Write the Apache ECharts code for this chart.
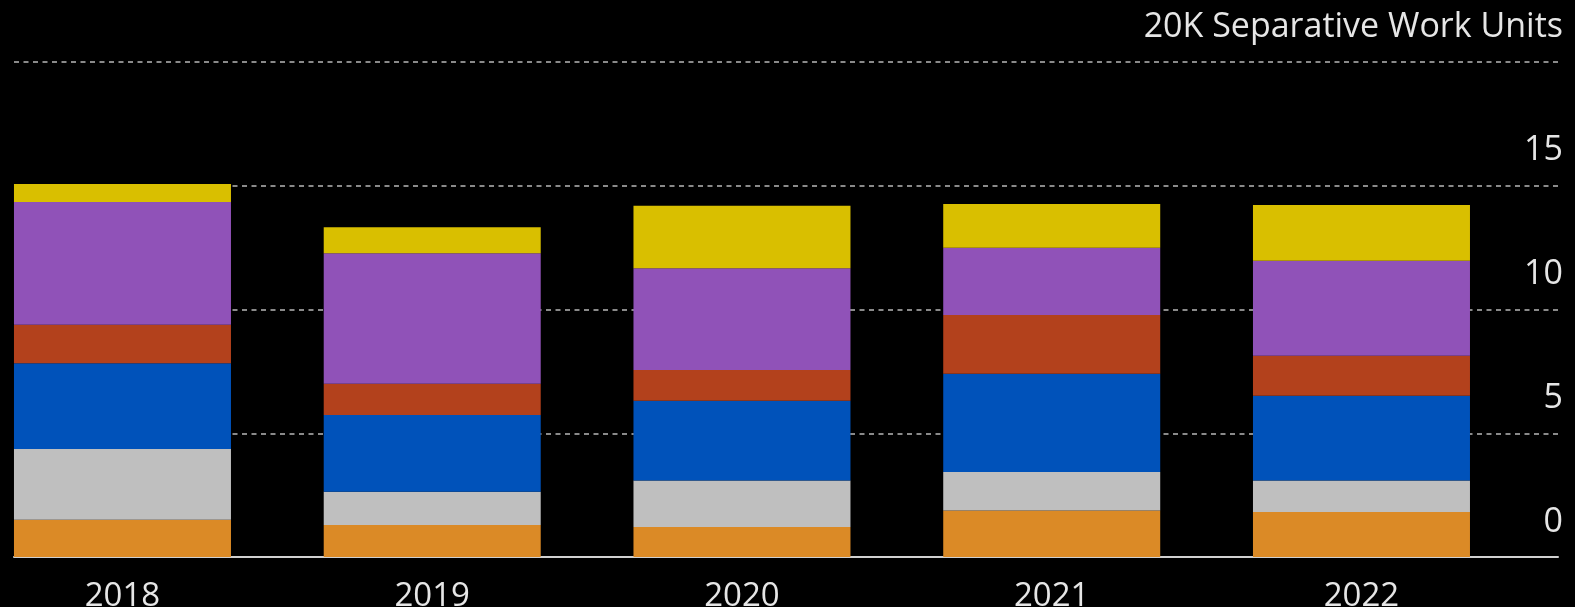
<!DOCTYPE html>
<html>
<head>
<meta charset="utf-8">
<script src="https://cdn.jsdelivr.net/npm/echarts@6/dist/echarts.min.js"></script>
<style>
html,body{margin:0;padding:0;background:#000;}
#c{width:1575px;height:607px;}
</style>
</head>
<body>
<div id="c"></div>
<script>
const categories = ['2018', '2019', '2020', '2021', '2022'];
const seriesOrange = [1.51, 1.29, 1.21, 1.88, 1.82];
const seriesGray   = [2.85, 1.35, 1.88, 1.55, 1.27];
const seriesBlue   = [3.47, 3.10, 3.22, 3.97, 3.43];
const seriesRed    = [1.55, 1.26, 1.25, 2.38, 1.61];
const seriesPurple = [4.96, 5.27, 4.11, 2.72, 3.84];
const seriesYellow = [0.73, 1.05, 2.52, 1.76, 2.25];
const yTickValues = [0, 5, 10, 15, 20];
const yTickLabels = ['0', '5', '10', '15', '20K Separative Work Units'];

const FONT = '"Open Sans", "Noto Sans", sans-serif';
const colors = {
  orange: '#db8a26', gray: '#bfbfbf', blue: '#0052ba',
  red: '#b3411c', purple: '#9052b8', yellow: '#d9bf00'
};

function bar(name, data, color) {
  return {
    name: name, type: 'bar', stack: 'total', data: data,
    xAxisIndex: 0, yAxisIndex: 0,
    barWidth: 217,
    itemStyle: { color: color },
    emphasis: { disabled: true }
  };
}

const chart = echarts.init(document.getElementById('c'), null, { renderer: 'canvas' });
chart.setOption({
  backgroundColor: '#000000',
  animation: false,
  grid: [
    { left: -32.4, right: 58.65, top: 62, bottom: 50, containLabel: false, outerBoundsMode: 'none' },
    { left: 14, right: 17, top: 62, bottom: 50, containLabel: false, outerBoundsMode: 'none' }
  ],
  xAxis: [
    {
      type: 'category', gridIndex: 0, data: categories,
      axisLine: { show: false }, axisTick: { show: false },
      axisLabel: { color: '#e6e6e6', fontFamily: FONT, fontSize: 33, margin: 23 }
    },
    {
      type: 'value', gridIndex: 1, min: 0, max: 1,
      axisLine: { show: true, lineStyle: { color: '#d0d0d0', width: 2 } },
      axisTick: { show: false }, axisLabel: { show: false }, splitLine: { show: false }
    }
  ],
  yAxis: [
    {
      type: 'value', gridIndex: 0, min: 0, max: 20, interval: 5, show: false
    },
    {
      type: 'value', gridIndex: 1, min: 0, max: 20, interval: 5, position: 'right',
      axisLine: { show: false }, axisTick: { show: false },
      splitLine: { show: true, lineStyle: { color: '#8a8a8a', width: 2, type: [5, 4.5] } },
      axisLabel: {
        inside: true, margin: -5, align: 'right', verticalAlign: 'bottom',
        color: '#e6e6e6', fontFamily: FONT, fontSize: 34, lineHeight: 70,
        formatter: function (v) {
          const i = yTickValues.indexOf(v);
          return i >= 0 ? yTickLabels[i] : '';
        }
      }
    }
  ],
  series: [
    bar('Orange', seriesOrange, colors.orange),
    bar('Gray', seriesGray, colors.gray),
    bar('Blue', seriesBlue, colors.blue),
    bar('Red', seriesRed, colors.red),
    bar('Purple', seriesPurple, colors.purple),
    bar('Yellow', seriesYellow, colors.yellow)
  ]
});
</script>
</body>
</html>
